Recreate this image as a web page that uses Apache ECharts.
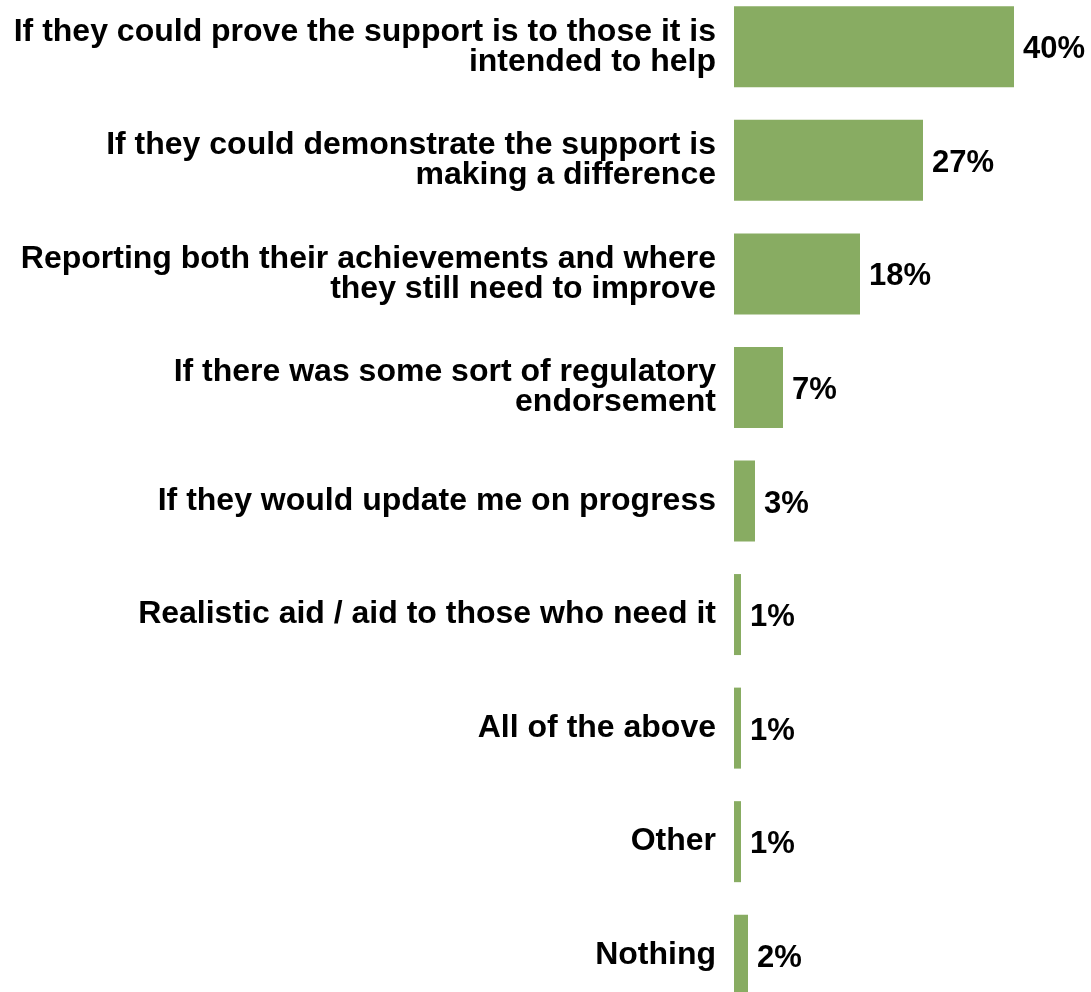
<!DOCTYPE html>
<html>
<head>
<meta charset="utf-8">
<script src="https://cdn.jsdelivr.net/npm/echarts@6/dist/echarts.min.js"></script>
<style>
  html, body { margin: 0; padding: 0; background: #ffffff; overflow: hidden; }
  /* the last row runs past the bottom edge, the first starts slightly above the top */
  #chart { width: 1091px; height: 1022px; margin-top: -10px; }
</style>
</head>
<body>
<div id="chart"></div>
<script>
// Response options, top to bottom
const categories = [
  'If they could prove the support is to those it is\nintended to help',
  'If they could demonstrate the support is\nmaking a difference',
  'Reporting both their achievements and where\nthey still need to improve',
  'If there was some sort of regulatory\nendorsement',
  'If they would update me on progress',
  'Realistic aid / aid to those who need it',
  'All of the above',
  'Other',
  'Nothing'
];
// Share of respondents (%)
const shares = [40, 27, 18, 7, 3, 1, 1, 1, 2];

const chart = echarts.init(document.getElementById('chart'), null, { renderer: 'canvas' });

chart.setOption({
  backgroundColor: '#ffffff',
  animation: false,
  grid: { left: 734, right: 77, top: 0, bottom: 0, containLabel: false },
  xAxis: {
    type: 'value',
    min: 0,
    max: 40,
    show: false
  },
  yAxis: {
    type: 'category',
    data: categories,
    inverse: true,
    axisLine: { show: false },
    axisTick: { show: false },
    splitLine: { show: false },
    axisLabel: {
      margin: 18,
      align: 'right',
      color: '#000000',
      fontFamily: '"Liberation Sans", Arial, sans-serif',
      fontWeight: 'bold',
      fontSize: 32,
      lineHeight: 30
    }
  },
  series: [{
    type: 'bar',
    data: shares,
    barWidth: 81,
    itemStyle: { color: '#88ac62' },
    label: {
      show: true,
      position: 'right',
      distance: 9,
      offset: [0, 3],
      formatter: '{c}%',
      color: '#000000',
      fontFamily: '"Liberation Sans", Arial, sans-serif',
      fontWeight: 'bold',
      fontSize: 31
    }
  }]
});
</script>
</body>
</html>
